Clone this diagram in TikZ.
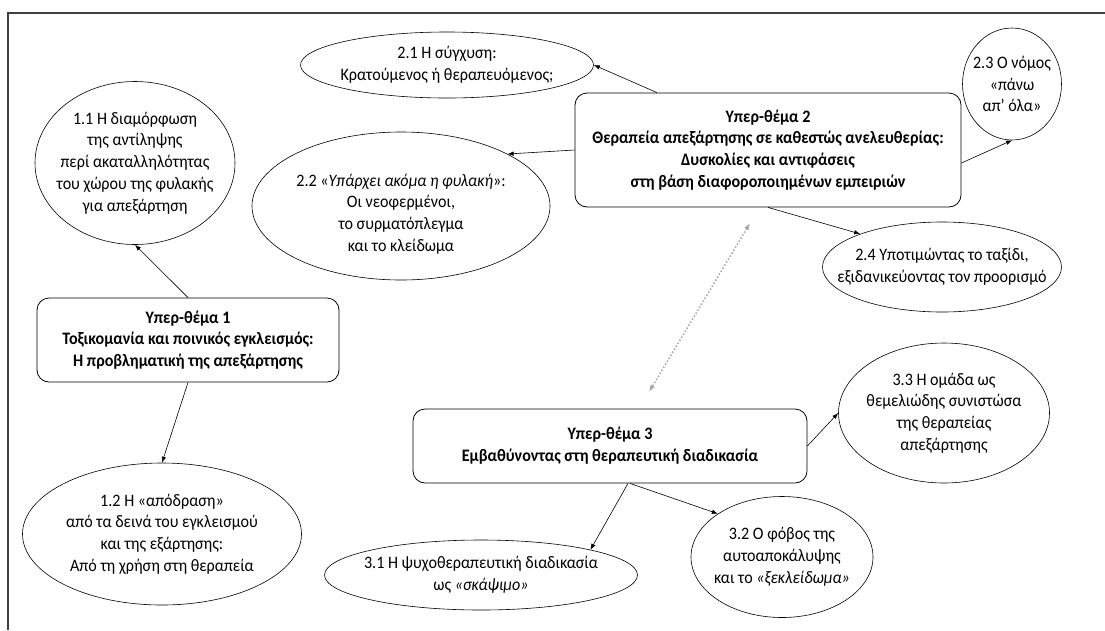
\documentclass[tikz,border=0pt]{standalone}
\usepackage{fontspec}
\setmainfont{Carlito}[FakeStretch=0.92]
\usepackage{tikz}
\usetikzlibrary{shapes.geometric,arrows.meta,calc}

\begin{document}
\begin{tikzpicture}[x=1pt,y=-1pt,
theme/.style={draw,rounded corners=12pt,line width=0.8pt,align=center,inner sep=0pt,font=\fontsize{17.5}{21.8}\selectfont\bfseries},
subtheme/.style={draw,ellipse,line width=0.6pt,inner sep=0pt},
subtext/.style={align=center,inner sep=0pt,font=\fontsize{17.5}{21.8}\selectfont},
link/.style={-{Latex[length=6pt,width=4.5pt]},line width=0.6pt}
]
\useasboundingbox (0,0) rectangle (1105,630);
\draw[line width=1.4pt,black!75] (8,630) -- (8,13) -- (1105,13);
% themes
\node[theme,minimum width=302,minimum height=84] (box1) at (188,340) {Υπερ-θέμα 1\\Τοξικομανία και ποινικός εγκλεισμός:\\Η προβληματική της απεξάρτησης};
\node[theme,minimum width=386,minimum height=114] (box2) at (768,150) {Υπερ-θέμα 2\\Θεραπεία απεξάρτησης σε καθεστώς ανελευθερίας:\\Δυσκολίες και αντιφάσεις\\στη βάση διαφοροποιημένων εμπειριών};
\node[theme,minimum width=394,minimum height=74] (box3) at (610,446) {Υπερ-θέμα 3\\Εμβαθύνοντας στη θεραπευτική διαδικασία};
% sub-themes
\node[subtheme,minimum width=200,minimum height=163] (t11) at (135,163) {};
\node[subtext] at (t11) {1.1 Η διαμόρφωση\\της αντίληψης\\περί ακαταλληλότητας\\του χώρου της φυλακής\\για απεξάρτηση};
\node[subtheme,minimum width=279,minimum height=142] (t12) at (162,534) {};
\node[subtext] at (t12) {1.2 Η «απόδραση»\\από τα δεινά του εγκλεισμού\\και της εξάρτησης:\\Από τη χρήση στη θεραπεία};
\node[subtheme,minimum width=293,minimum height=66] (t21) at (447,65) {};
\node[subtext] at (t21) {2.1 Η σύγχυση:\\Κρατούμενος ή θεραπευόμενος;};
\node[subtheme,minimum width=298,minimum height=148] (t22) at (401,206) {};
\node[subtext] at ([yshift=-8]t22.center) {2.2 «\textit{Υπάρχει ακόμα η φυλακή}»:\\Οι νεοφερμένοι,\\το συρματόπλεγμα\\και το κλείδωμα};
\node[subtheme,minimum width=99,minimum height=112] (t23) at (1012,84) {};
\node[subtext] at (t23) {2.3 Ο νόμος\\«πάνω\\απ’ όλα»};
\node[subtheme,minimum width=239,minimum height=90] (t24) at (942,267) {};
\node[subtext] at (t24) {2.4 Υποτιμώντας το ταξίδι,\\εξιδανικεύοντας τον προορισμό};
\node[subtheme,minimum width=313,minimum height=70] (t31) at (481,575) {};
\node[subtext] at (t31) {3.1 Η ψυχοθεραπευτική διαδικασία\\ως \textit{«σκάψιμο»}};
\node[subtheme,minimum width=182,minimum height=121] (t32) at (782,557) {};
\node[subtext] at (t32) {3.2 Ο φόβος της\\αυτοαποκάλυψης\\και το \textit{«ξεκλείδωμα»}};
\node[subtheme,minimum width=211,minimum height=140] (t33) at (944,413) {};
\node[subtext] at (t33) {3.3 Η ομάδα ως\\θεμελιώδης συνιστώσα\\της θεραπείας\\απεξάρτησης};
% connectors
\draw[link] (box1.north) -- (t11.south);
\draw[link] (box1.south) -- (t12.north);
\draw[link] ($(box2.north)+(-111,0)$) -- (t21.east);
\draw[link] (box2.west) -- (t22.26);
\draw[link] ($(box2.east)+(0,13)$) -- (t23.south);
\draw[link] (box2.south) -- (t24.158);
\draw[link] (box3.east) -- (t33.west);
\draw[link] ($(box3.south)+(18,0)$) -- (t31.13);
\draw[link] ($(box3.south)+(20,0)$) -- (t32.146);
\coordinate (d2) at (750,223);
\coordinate (d3) at (649,392);
\draw[{Latex[length=7pt,width=5pt]}-{Latex[length=7pt,width=5pt]},black!35,line width=1.5pt,dotted] (d2) -- (d3);
\end{tikzpicture}
\end{document}
